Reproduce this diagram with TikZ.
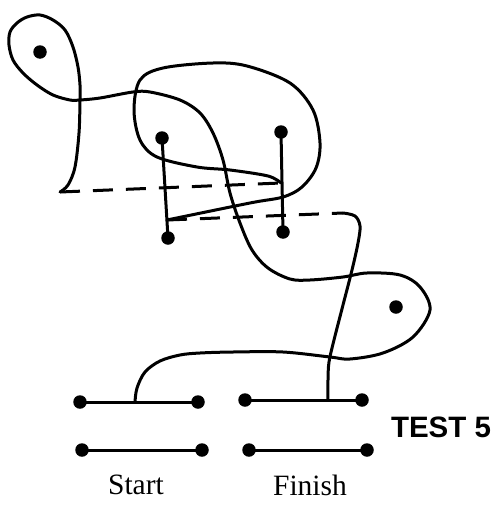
\documentclass[tikz,border=0pt]{standalone}
\usepackage{fontspec}
\setmainfont{Liberation Serif}
\newfontfamily\headfont{Liberation Sans}
\begin{document}
\begin{tikzpicture}[x=1pt,y=-1pt,
  dot/.style={circle,fill=black,inner sep=0pt,minimum size=13.5pt},
  wire/.style={line width=3pt,line cap=round,line join=round},
  dashwire/.style={line width=3pt,dash pattern=on 20pt off 13pt},
  lbl/.style={font=\fontsize{29.5}{31}\selectfont,inner sep=0pt},
  title/.style={font=\headfont\bfseries\fontsize{29.5}{31}\selectfont,inner sep=0pt}]
\useasboundingbox (0,0) rectangle (501,506);
% dots
\node[dot] (sa) at (80,402) {};
\node[dot] (sb) at (198,402) {};
\node[dot] (sc) at (82,450) {};
\node[dot] (sd) at (202,450) {};
\node[dot] (fa) at (245,400) {};
\node[dot] (fb) at (362,400) {};
\node[dot] (fc) at (249,450) {};
\node[dot] (fd) at (367,450) {};
\node[dot] (lt) at (162,138) {};
\node[dot] (lb) at (168,238) {};
\node[dot] (rt) at (281,132) {};
\node[dot] (rb) at (283,232) {};
\node[dot] (p1) at (40,52) {};
\node[dot] (p2) at (396,307) {};
% bars
\draw[wire] (sa.center) -- (sb.center);
\draw[wire] (sc.center) -- (sd.center);
\draw[wire] (fa.center) -- (fb.center);
\draw[wire] (fc.center) -- (fd.center);
\draw[wire] (lt.center) -- (lb.center);
\draw[wire] (rt.center) -- (rb.center);
% junctions
\coordinate (sj) at (135,402);
\coordinate (fj) at (328,400);
\coordinate (ll) at (60,192);
\coordinate (rj) at (281,183);
\coordinate (lj) at (167,220);
\coordinate (ck) at (343,213);
% path from start
\draw[wire] plot[smooth,tension=0.55] coordinates {(sj) (137,388) (145,372) (160,361) (180,355) (200,353) (233,352) (283,352) (330,357) (350,359) (383,353) (413,337) (430,310) (420,287) (400,275) (367,273) (343,277) (310,280) (290,279) (268,268) (252,250) (240,223) (230,193) (223,160) (213,133) (200,113) (180,100) (150,92) (133,92) (100,98) (80,100) (70,100) (53,95) (37,85) (23,73) (13,60) (9,45) (10,32) (17,23) (27,17) (40,15) (53,20) (65,30) (73,47) (78,67) (80,85) (80,100) (79,133) (75,167) (68,185) (ll)};
\draw[dashwire] (ll) -- (rj);
% big loop
\draw[wire] plot[smooth,tension=0.55] coordinates {(rj) (268,176) (230,170) (197,167) (157,157) (140,140) (134,110) (140,80) (163,68) (213,63) (247,66) (290,83) (313,110) (320,143) (316,168) (302,187) (283,197) (250,203) (lj)};
\draw[dashwire] (lj) -- (ck);
% to finish
\draw[wire] plot[smooth,tension=0.55] coordinates {(fj) (328,380) (329,362) (334,340) (343,305) (352,270) (358,243) (360,226) (355,216) (ck)};
% text
\node[lbl] (st) at (136,485) {Start};
\node[lbl] (fi) at (310,485) {Finish};
\node[title] (t5) at (441,427) {TEST 5};
\end{tikzpicture}
\end{document}
